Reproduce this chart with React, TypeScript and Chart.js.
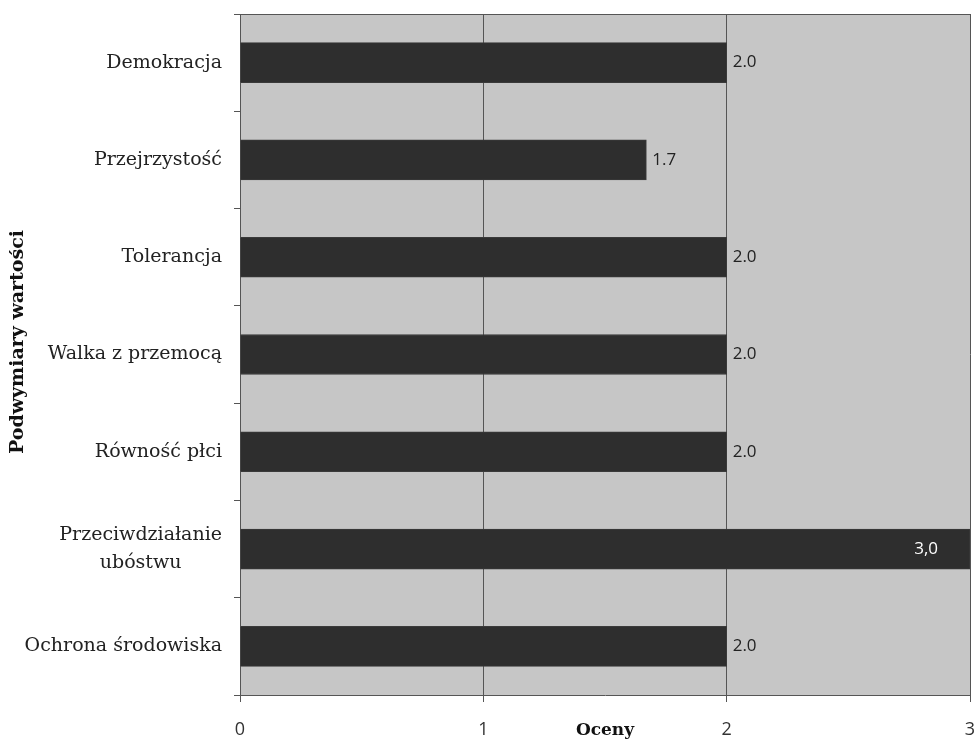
import React, { useEffect, useRef } from "react";
import { Chart, registerables } from "chart.js";

Chart.register(...registerables);

const categories: string[][] = [
  ["Demokracja"],
  ["Przejrzystość"],
  ["Tolerancja"],
  ["Walka z przemocą"],
  ["Równość płci"],
  ["Przeciwdziałanie", "ubóstwu"],
  ["Ochrona środowiska"],
];
const values: number[] = [2.0, 1.67, 2.0, 2.0, 2.0, 3.0, 2.0];
const valueLabels: string[] = ["2.0", "1.7", "2.0", "2.0", "2.0", "3,0", "2.0"];
const xTicks: number[] = [0, 1, 2, 3];
const xTitle = "Oceny";
const yTitle = "Podwymiary wartości";

const SERIF = "'DejaVu Serif', serif";
const SANS = "'Open Sans', 'DejaVu Sans', sans-serif";

const decorPlugin = {
  id: "decor",
  beforeDraw(chart: any) {
    const { ctx, chartArea } = chart;
    ctx.save();
    ctx.fillStyle = "#c6c6c6";
    ctx.fillRect(chartArea.left, chartArea.top, chartArea.right - chartArea.left, chartArea.bottom - chartArea.top);
    ctx.restore();
  },
  afterDraw(chart: any) {
    const { ctx, chartArea } = chart;
    const yScale = chart.scales.y;
    ctx.save();
    // top border
    ctx.strokeStyle = "#555";
    ctx.lineWidth = 1;
    ctx.beginPath();
    ctx.moveTo(chartArea.left, chartArea.top + 0.5);
    ctx.lineTo(chartArea.right, chartArea.top + 0.5);
    ctx.stroke();
    // category labels
    ctx.font = `19px ${SERIF}`;
    ctx.fillStyle = "#222";
    ctx.textBaseline = "middle";
    ctx.textAlign = "center";
    const lineH = 28;
    categories.forEach((lines, i) => {
      const cy = yScale.getPixelForValue(i);
      const w = Math.max(...lines.map((l) => ctx.measureText(l).width));
      const cx = chartArea.left - 18 - w / 2;
      lines.forEach((l, j) => {
        const y = cy + (j - (lines.length - 1) / 2) * lineH;
        ctx.fillText(l, cx, y);
      });
    });
    // value labels
    const meta = chart.getDatasetMeta(0);
    ctx.font = `17px ${SANS}`;
    meta.data.forEach((bar: any, i: number) => {
      const lbl = valueLabels[i];
      if (values[i] >= 3) {
        ctx.fillStyle = "#ffffff";
        ctx.textAlign = "right";
        ctx.fillText(lbl, bar.x - 32, bar.y);
      } else {
        ctx.fillStyle = "#222";
        ctx.textAlign = "left";
        ctx.fillText(lbl, bar.x + 6, bar.y);
      }
    });
    // x title
    ctx.fillStyle = "#111";
    ctx.font = `bold 17px ${SERIF}`;
    ctx.textAlign = "center";
    ctx.textBaseline = "middle";
    ctx.fillText(xTitle, (chartArea.left + chartArea.right) / 2, 731);
    // y title
    ctx.font = `bold 19px ${SERIF}`;
    ctx.translate(18, 342);
    ctx.rotate(-Math.PI / 2);
    ctx.fillText(yTitle, 0, 0);
    ctx.restore();
  },
};

export default function App() {
  const ref = useRef<HTMLCanvasElement | null>(null);
  useEffect(() => {
    document.body.style.margin = "0";
    const canvas = ref.current;
    if (!canvas) return;
    const chart = new Chart(canvas, {
      type: "bar",
      data: {
        labels: categories.map((c) => c.join(" ")),
        datasets: [
          {
            data: values,
            backgroundColor: "#2e2e2e",
            borderColor: "#3a3a3a",
            borderWidth: 1,
            barThickness: 40,
          },
        ],
      },
      options: {
        indexAxis: "y",
        animation: false,
        responsive: false,
        layout: { padding: { top: 14, right: 6, left: 0, bottom: 0 } },
        plugins: { legend: { display: false }, tooltip: { enabled: false } },
        scales: {
          x: {
            type: "linear",
            min: 0,
            max: 3,
            afterBuildTicks(scale: any) {
              scale.ticks = xTicks.map((v) => ({ value: v }));
            },
            ticks: {
              stepSize: 1,
              padding: 17,
              color: "#333",
              font: { family: SANS, size: 18 },
              callback: (v: any) => String(v),
            },
            grid: { color: "#555", lineWidth: 1, tickLength: 7, drawTicks: true },
            border: { color: "#555", width: 1 },
            afterFit(scale: any) {
              scale.height = 46;
              scale.paddingLeft = 0;
              scale.paddingRight = 0;
            },
          },
          y: {
            offset: true,
            ticks: {
              color: "#222",
              padding: 12,
              font: { family: SERIF, size: 12 },
              callback: () => "",
            },
            grid: { offset: true, drawOnChartArea: false, drawTicks: true, tickLength: 6, color: "#555" },
            border: { color: "#555", width: 1 },
            afterFit(scale: any) {
              scale.width = 240;
              scale.paddingTop = 0;
              scale.paddingBottom = 0;
            },
          },
        },
      },
      plugins: [decorPlugin],
    });
    return () => chart.destroy();
  }, []);
  return <canvas ref={ref} width={976} height={741} style={{ display: "block" }} />;
}
